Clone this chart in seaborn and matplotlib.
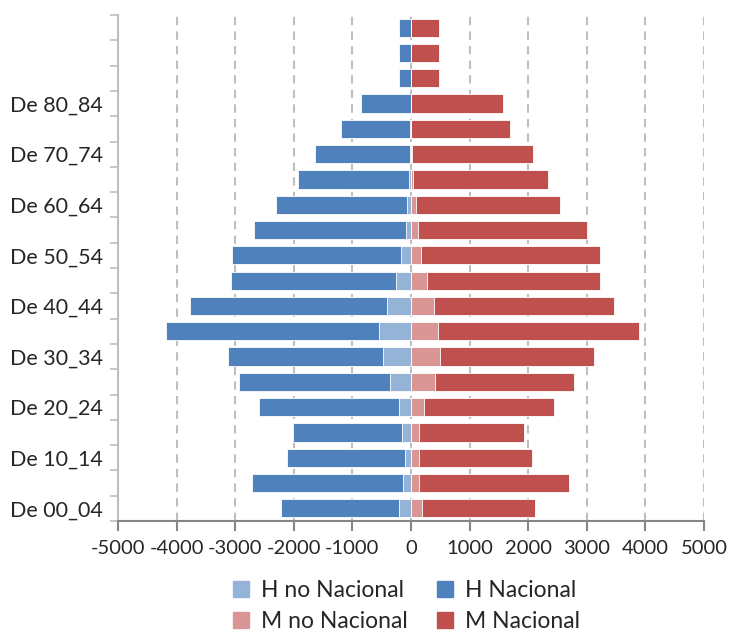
import matplotlib
matplotlib.use("Agg")
import matplotlib.pyplot as plt
from matplotlib.patches import Patch
import seaborn as sns
import pandas as pd
import numpy as np

# ---- data (index 0 = youngest group) ----
groups = ["De 00_04", "De 05_09", "De 10_14", "De 15_19", "De 20_24", "De 25_29",
          "De 30_34", "De 35_39", "De 40_44", "De 45_49", "De 50_54", "De 55_59",
          "De 60_64", "De 65_69", "De 70_74", "De 75_79", "De 80_84", "De 85_89",
          "De 90_94", "De 95_99"]
shown_labels = ["De 00_04", "", "De 10_14", "", "De 20_24", "", "De 30_34", "",
                "De 40_44", "", "De 50_54", "", "De 60_64", "", "De 70_74", "",
                "De 80_84", "", "", ""]
h_no_nacional = [205, 131, 102, 160, 205, 358, 478, 540, 410, 256,
                 170, 85, 68, 30, 20, 17, 0, 0, 0, 0]
h_nacional = [2008, 2588, 2014, 1848, 2383, 2577, 2639, 3636, 3356, 2816,
              2885, 2588, 2230, 1893, 1618, 1183, 860, 200, 200, 200]
m_no_nacional = [193, 131, 131, 137, 227, 404, 495, 466, 387, 273,
                 165, 125, 80, 35, 20, 0, 0, 0, 0, 0]
m_nacional = [1918, 2565, 1934, 1797, 2208, 2372, 2622, 3425, 3072, 2952,
              3060, 2878, 2463, 2303, 2068, 1695, 1575, 470, 470, 470]
x_ticks = [-5000, -4000, -3000, -2000, -1000, 0, 1000, 2000, 3000, 4000, 5000]

c_h_no = "#95B3D7"
c_h = "#4F81BD"
c_m_no = "#D99694"
c_m = "#C0504D"

sns.set_theme(style="white")
plt.rcParams["font.family"] = ["Lato", "DejaVu Sans"]

df = pd.DataFrame({
    "grupo": groups,
    "h_no": -np.array(h_no_nacional),
    "h_tot": -(np.array(h_no_nacional) + np.array(h_nacional)),
    "m_no": np.array(m_no_nacional),
    "m_tot": np.array(m_no_nacional) + np.array(m_nacional),
})
order = groups[::-1]  # top = oldest

fig = plt.figure(figsize=(7.31, 6.33), dpi=100)
ax = fig.add_axes([0.1614, 0.1769, 0.8017, 0.7994])

# gridlines
ax.set_axisbelow(True)
ax.xaxis.grid(True, color="#BFBFBF", linestyle=(0, (4, 3)), linewidth=1.5)

bw = 0.72
kw = dict(orient="h", order=order, width=bw, edgecolor="white", linewidth=0.6, ax=ax)
sns.barplot(data=df, x="h_tot", y="grupo", color=c_h, saturation=1, **kw)
sns.barplot(data=df, x="h_no", y="grupo", color=c_h_no, saturation=1, **kw)
sns.barplot(data=df, x="m_tot", y="grupo", color=c_m, saturation=1, **kw)
sns.barplot(data=df, x="m_no", y="grupo", color=c_m_no, saturation=1, **kw)

ax.set_xlim(-5000, 5000)
ax.set_ylim(len(groups) - 0.5, -0.5)
ax.set_xticks(x_ticks)
ax.set_xticklabels([str(v) for v in x_ticks], fontsize=14.5)
ax.set_xlabel("")
ax.set_ylabel("")

# y labels (major, no tick mark) and category-boundary tick marks (minor)
n = len(groups)
label_pos = [i for i, g in enumerate(order)]
ax.set_yticks(label_pos)
ax.set_yticklabels(shown_labels[::-1], fontsize=15.5)
ax.set_yticks(np.arange(-0.5, n, 1.0), minor=True)
ax.tick_params(axis="y", which="major", length=0, pad=11)
ax.tick_params(axis="y", which="minor", length=6, width=1.2, color="#BFBFBF", direction="out", left=True)
ax.tick_params(axis="x", which="major", length=7, width=1.5, color="#868686", direction="out", bottom=True, pad=7)

for s in ["top", "right"]:
    ax.spines[s].set_visible(False)
ax.spines["left"].set_color("#BFBFBF")
ax.spines["left"].set_linewidth(1.5)
ax.spines["bottom"].set_color("#868686")
ax.spines["bottom"].set_linewidth(1.5)

handles = [Patch(color=c_h_no, label="H no Nacional"),
           Patch(color=c_m_no, label="M no Nacional"),
           Patch(color=c_h, label="H Nacional"),
           Patch(color=c_m, label="M Nacional")]
fig.legend(handles=handles, ncol=2, loc="center", bbox_to_anchor=(0.556, 0.0425),
           frameon=False, fontsize=16.5, handlelength=0.7, handleheight=0.7,
           handletextpad=0.5, columnspacing=1.3, labelspacing=0.45,
           borderaxespad=0, borderpad=0)

fig.savefig("out.png", dpi=100)
